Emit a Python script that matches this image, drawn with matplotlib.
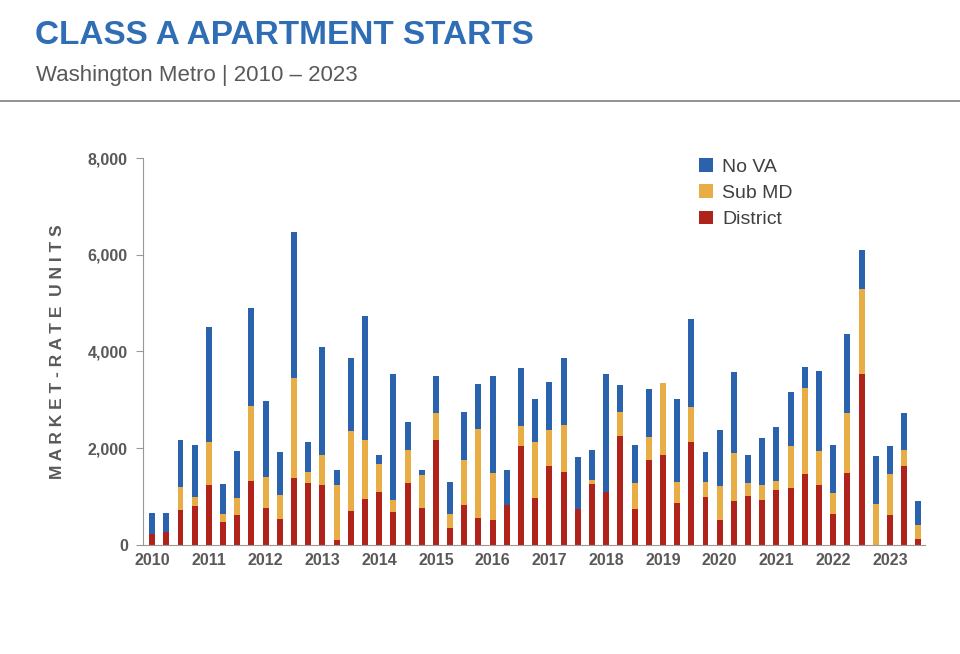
import numpy as np
import matplotlib
matplotlib.use("Agg")
import matplotlib.pyplot as plt

plt.rcParams["font.family"] = ["Liberation Sans", "DejaVu Sans"]

# quarterly, 2010 Q1 .. 2023 Q3
district = [220, 270, 730, 800, 1250, 470, 620, 1330, 760, 540, 1380, 1280,
            1240, 110, 710, 950, 1100, 680, 1290, 760, 2180, 360, 820, 550,
            520, 820, 2040, 970, 1630, 1510, 740, 1260, 1100, 2250, 750, 1760,
            1850, 860, 2120, 990, 510, 900, 1020, 940, 1130, 1170, 1470, 1250,
            640, 1490, 3530, 0, 620, 1630, 120]
# top of the Sub MD segment (District + Sub MD)
thru_md = [220, 270, 1200, 990, 2120, 650, 980, 2880, 1410, 1040, 3450, 1510,
           1850, 1240, 2360, 2170, 1670, 930, 1970, 1450, 2720, 640, 1750, 2400,
           1490, 820, 2460, 2130, 2370, 2490, 740, 1340, 1100, 2750, 1280, 2240,
           3350, 1300, 2850, 1300, 1210, 1900, 1290, 1240, 1320, 2050, 3240, 1950,
           1070, 2730, 5290, 840, 1470, 1960, 420]
# total height of each bar
total = [660, 670, 2160, 2070, 4500, 1270, 1950, 4890, 2980, 1920, 6470, 2130,
         4100, 1560, 3870, 4740, 1860, 3530, 2540, 1560, 3500, 1310, 2740, 3320,
         3500, 1550, 3650, 3020, 3360, 3860, 1820, 1960, 3530, 3310, 2070, 3220,
         3350, 3020, 4680, 1930, 2370, 3580, 1860, 2210, 2440, 3170, 3670, 3600,
         2060, 4360, 6090, 1830, 2040, 2720, 900]
years = list(range(2010, 2024))

district = np.array(district)
sub_md = np.array(thru_md) - district
no_va = np.array(total) - np.array(thru_md)
x = np.arange(len(district))

RED, GOLD, BLUE = "#B0231A", "#E8AE45", "#2A62AE"
GRAY = "#595959"

fig = plt.figure(figsize=(9.6, 6.54), dpi=100)
fig.text(0.036, 0.945, "CLASS A APARTMENT STARTS", color="#2F6DB5",
         fontsize=24, fontweight="bold", va="center")
fig.text(0.038, 0.885, "Washington Metro | 2010 \u2013 2023", color=GRAY,
         fontsize=16, va="center")
fig.add_artist(plt.Line2D([0, 1], [0.845, 0.845], color="#7f7f7f", lw=1.2))

ax = fig.add_axes([0.149, 0.1667, 0.815, 0.5917])
w = 0.42
ax.bar(x, district, w, color=RED, label="District")
ax.bar(x, sub_md, w, bottom=district, color=GOLD, label="Sub MD")
ax.bar(x, no_va, w, bottom=district + sub_md, color=BLUE, label="No VA")

ax.set_xlim(-0.64, 54.5)
ax.set_ylim(0, 8000)
ax.set_yticks(range(0, 8001, 2000))
ax.set_yticklabels([f"{v:,}" for v in range(0, 8001, 2000)])
ax.set_xticks(x[::4])
ax.set_xticklabels(years)
ax.tick_params(axis="x", length=0, pad=6)
ax.tick_params(axis="y", direction="out", length=5, color="#999999", pad=6)
for lab in ax.get_xticklabels() + ax.get_yticklabels():
    lab.set_fontweight("bold")
    lab.set_color(GRAY)
    lab.set_fontsize(11.5)
for s in ["top", "right"]:
    ax.spines[s].set_visible(False)
ax.spines["left"].set_color("#999999")
ax.spines["bottom"].set_color("#999999")
ax.set_ylabel("M A R K E T - R A T E  U N I T S", fontsize=12.5,
              fontweight="bold", color=GRAY, labelpad=16)

h, l = ax.get_legend_handles_labels()
leg = fig.legend(h[::-1], l[::-1], loc="upper left",
                 bbox_to_anchor=(0.71, 0.785), frameon=False, fontsize=14,
                 handlelength=0.7, handleheight=0.7, labelspacing=0.45,
                 handletextpad=0.5)
for t in leg.get_texts():
    t.set_color("#404040")

fig.savefig("out.png", dpi=100)
